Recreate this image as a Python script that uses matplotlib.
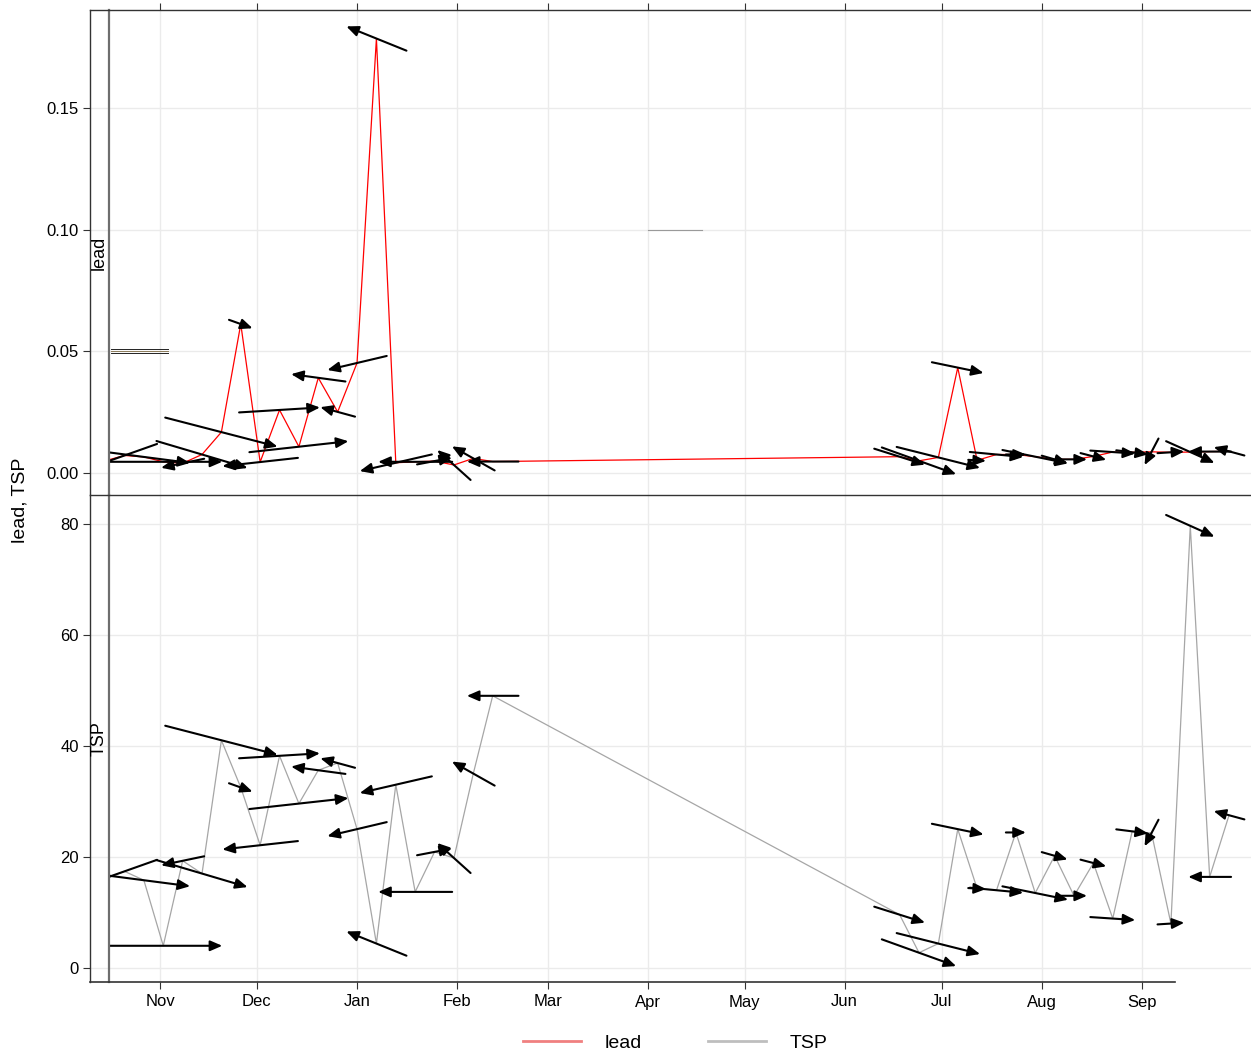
import numpy as np
import pandas as pd
import matplotlib
matplotlib.use("Agg")
import matplotlib.pyplot as plt
import matplotlib.dates as mdates
from matplotlib.patches import FancyArrowPatch, ArrowStyle
from matplotlib.lines import Line2D

plt.rcParams["font.family"] = ["Liberation Sans", "DejaVu Sans"]

# 1-in-6 day samples
dates = ["2017-10-15", "2017-10-21", "2017-10-27", "2017-11-02", "2017-11-08",
         "2017-11-14", "2017-11-20", "2017-11-26", "2017-12-02", "2017-12-08",
         "2017-12-14", "2017-12-20", "2017-12-26", "2018-01-01", "2018-01-07",
         "2018-01-13", "2018-01-19", "2018-01-25", "2018-01-31", "2018-02-06",
         "2018-02-12", "2018-06-18", "2018-06-24", "2018-06-30", "2018-07-06",
         "2018-07-12", "2018-07-18", "2018-07-24", "2018-07-30", "2018-08-05",
         "2018-08-11", "2018-08-17", "2018-08-23", "2018-08-29", "2018-09-04",
         "2018-09-10", "2018-09-16", "2018-09-22", "2018-09-28"]

lead = [0.0050, 0.0072, 0.0066, 0.0046, 0.0040, 0.0076, 0.0168, 0.0612, 0.0045, 0.0259,
        0.0108, 0.0391, 0.0251, 0.0452, 0.1785, 0.0042, 0.0046, 0.0049, 0.0033, 0.0060,
        0.0047, 0.0067, 0.0050, 0.0064, 0.0433, 0.0052, 0.0076, 0.0076, 0.0067, 0.0056,
        0.0056, 0.0068, 0.0086, 0.0085, 0.0087, 0.0085, 0.0086, 0.0088, 0.0089]

tsp = [16.1, 17.4, 15.8, 4.0, 19.3, 17.0, 41.0, 32.5, 22.1, 38.2,
       29.6, 35.6, 36.9, 25.0, 4.4, 33.0, 13.7, 20.9, 19.8, 35.0,
       49.0, 9.6, 2.75, 4.4, 25.0, 14.3, 14.0, 24.4, 13.5, 20.2,
       13.0, 18.9, 8.9, 24.6, 24.3, 8.0, 79.6, 16.4, 27.5]

# wind speed (m/s) and direction (degrees, blowing from)
ws = [np.nan, 3.45, 4.66, 5.90, 2.20, 4.75, 5.80, 1.25, 3.80, 4.05,
      4.98, 2.74, 1.80, 3.05, 3.24, 3.70, 3.70, 1.78, 2.24, 2.45,
      2.58, 2.66, 3.95, 4.30, 2.64, 0.89, 2.68, 1.00, 3.35, 1.34,
      1.30, 1.33, 2.25, 1.60, 1.50, 1.34, 2.65, 2.14, 1.59]
wd = [np.nan, 70.5, 277.4, 270.0, 78.2, 286.5, 284.5, 289.7, 83.7, 266.5,
      263.7, 97.7, 105.3, 76.7, 112.0, 77.0, 90.0, 259.2, 132.0, 119.4,
      90.0, 287.5, 289.8, 284.1, 281.7, 273.2, 275.4, 270.0, 281.5, 285.9,
      270.0, 284.6, 273.8, 277.2, 27.7, 266.4, 294.2, 90.0, 105.2]

month_ticks = ["2017-11-01", "2017-12-01", "2018-01-01", "2018-02-01", "2018-03-01",
               "2018-04-01", "2018-05-01", "2018-06-01", "2018-07-01", "2018-08-01",
               "2018-09-01"]
month_labels = ["Nov", "Dec", "Jan", "Feb", "Mar", "Apr", "May", "Jun", "Jul", "Aug", "Sep"]

x = mdates.date2num(pd.to_datetime(dates))
xt = mdates.date2num(pd.to_datetime(month_ticks))
x_lo = mdates.date2num(pd.Timestamp("2017-11-01")) - 15.8
x_hi = mdates.date2num(pd.Timestamp("2017-11-01")) + 337.8

W, H = 1251, 1057
fig = plt.figure(figsize=(W / 100, H / 100), dpi=100)


def fx(px):
    return px / W


def fy(py):
    return 1 - py / H


GRID = "#EBEBEB"
AX_COL = "#333333"

panels = [
    dict(name="lead", vals=lead, color="#FF0000", top=10, bot=495,
         ylim=(-0.00904, 0.19022), yticks=[0.0, 0.05, 0.10, 0.15],
         ylabels=["0.00", "0.05", "0.10", "0.15"]),
    dict(name="TSP", vals=tsp, color="#A6A6A6", top=495, bot=982,
         ylim=(-2.52, 85.15), yticks=[0, 20, 40, 60, 80],
         ylabels=["0", "20", "40", "60", "80"]),
]

L_STRIP, L_DATA = 90, 109
axes = []
for i, p in enumerate(panels):
    ax = fig.add_axes([fx(L_DATA), fy(p["bot"]), fx(W - L_DATA), (p["bot"] - p["top"]) / H])
    ax.set_xlim(x_lo, x_hi)
    ax.set_ylim(*p["ylim"])
    ax.set_autoscale_on(False)
    ax.set_yticks(p["yticks"])
    ax.set_xticks(xt)
    ax.tick_params(left=False, labelleft=False)
    ax.grid(True, color=GRID, lw=1.0)
    ax.set_axisbelow(True)
    for s in ["left", "right", "bottom"]:
        ax.spines[s].set_visible(False)
    ax.spines["top"].set_color(AX_COL)
    ax.spines["top"].set_linewidth(1.0)
    if i == 0:
        ax.tick_params(axis="x", top=True, bottom=False, labelbottom=False,
                       direction="out", length=5, color=AX_COL, width=0.8)
    else:
        ax.tick_params(axis="x", top=False, bottom=True, labelbottom=True,
                       direction="out", length=5, color=AX_COL, width=0.8,
                       labelsize=12, pad=4)
        ax.set_xticklabels(month_labels)

    ax.plot(x, p["vals"], color=p["color"], lw=0.9, zorder=2)

    # wind vectors centred on each sample, sized in pixels by wind speed
    ppx_x = ax.bbox.width / (x_hi - x_lo)
    ppx_y = ax.bbox.height / (p["ylim"][1] - p["ylim"][0])
    for xi, yi, s, d in zip(x, p["vals"], ws, wd):
        if not np.isfinite(s):
            continue
        b = np.deg2rad((d + 180.0) % 360.0)
        length = s * 20.0
        dxd = length * np.sin(b) / ppx_x
        dyd = length * np.cos(b) / ppx_y
        arr = FancyArrowPatch((xi - dxd / 2, yi - dyd / 2), (xi + dxd / 2, yi + dyd / 2),
                              arrowstyle=ArrowStyle("-|>", head_length=0.6, head_width=0.26),
                              mutation_scale=12, lw=1.5, color="black",
                              shrinkA=0, shrinkB=0, zorder=3)
        ax.add_patch(arr)
    axes.append(ax)

    # strip with the variable name, carrying the y axis
    sa = fig.add_axes([fx(L_STRIP), fy(p["bot"]), fx(L_DATA - L_STRIP), (p["bot"] - p["top"]) / H])
    sa.set_xlim(0, 1)
    sa.set_ylim(*p["ylim"])
    sa.set_xticks([])
    sa.set_yticks(p["yticks"])
    sa.set_yticklabels(p["ylabels"])
    sa.tick_params(axis="y", direction="out", length=5, color=AX_COL, width=0.8,
                   labelsize=12, pad=3)
    sa.grid(True, axis="y", color=GRID, lw=1.0)
    sa.set_axisbelow(True)
    sa.spines["bottom"].set_visible(False)
    sa.spines["top"].set_color(AX_COL)
    sa.spines["top"].set_linewidth(1.0)
    sa.spines["left"].set_color(AX_COL)
    sa.spines["left"].set_linewidth(1.0)
    sa.spines["right"].set_color("#6E6E6E")
    sa.spines["right"].set_linewidth(1.6)
    sa.text(0.5, 0.5, p["name"], rotation=90, ha="center", va="center",
            fontsize=13, transform=sa.transAxes)

# faint stray marks on the upper panel (placed in pixel rows of the panel)
top_ax = axes[0]
p0 = panels[0]
ph = p0["bot"] - p0["top"]
for row, c in zip([349.3, 351.0, 352.7], ["#222222", "#8C7B5A", "#222222"]):
    fr = (p0["bot"] - row) / ph
    top_ax.plot([2 / 1142, 59 / 1142], [fr, fr], color=c, lw=0.7,
                transform=top_ax.transAxes, zorder=1)
fr = (p0["bot"] - 230) / ph
top_ax.plot([539 / 1142, 593 / 1142], [fr, fr], color="#9A9A9A", lw=0.8,
            transform=top_ax.transAxes, zorder=1)

# bottom axis line (stops short of the right edge)
fig.add_artist(Line2D([fx(L_STRIP), fx(1175)], [fy(982), fy(982)], color=AX_COL, lw=1.2))

fig.text(fx(20), fy(500), "lead, TSP", rotation=90, ha="center", va="center", fontsize=14)

handles = [Line2D([], [], color="#F08080", lw=2.0),
           Line2D([], [], color="#BEBEBE", lw=2.0)]
fig.legend(handles, ["lead", "TSP"], loc="center", bbox_to_anchor=(fx(675), fy(1043)),
           ncol=2, frameon=False, fontsize=14, handlelength=3.0, handletextpad=1.2,
           columnspacing=3.4)

fig.savefig("out.png", dpi=100)
